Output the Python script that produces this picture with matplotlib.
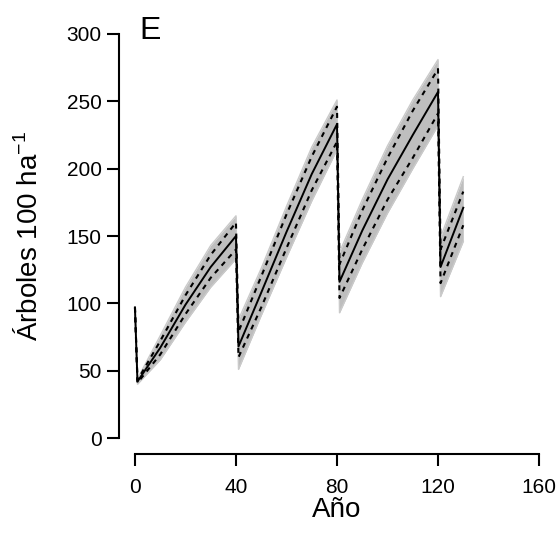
import matplotlib
matplotlib.use("Agg")
import matplotlib.pyplot as plt

plt.rcParams['font.family'] = ['Liberation Sans', 'DejaVu Sans']
plt.rcParams['mathtext.fontset'] = 'custom'
plt.rcParams['mathtext.rm'] = 'Liberation Sans'
plt.rcParams['mathtext.it'] = 'Liberation Sans:italic'

# valores (arboles por 100 ha)
years = [0, 1, 10, 20, 30, 40, 41, 50, 60, 70, 80, 81, 90, 100, 110, 120, 121, 130]
mean_line = [97, 42, 67, 99, 127, 150, 68, 108, 153, 196, 233, 116, 154, 192, 225, 257, 127, 171]
upper_q = [97, 43, 72, 106, 136, 160, 79, 120, 166, 209, 246, 129, 169, 208, 243, 274, 140, 183]
lower_q = [97, 41, 62, 92, 119, 140, 60, 97, 141, 184, 220, 104, 140, 177, 208, 241, 115, 158]
sim_max = [97, 44, 76, 112, 143, 165, 88, 126, 172, 216, 251, 138, 177, 217, 251, 281, 149, 194]
sim_min = [97, 40, 58, 86, 112, 133, 51, 91, 134, 176, 214, 93, 130, 167, 200, 232, 105, 146]

xticks = [0, 40, 80, 120, 160]
yticks = [0, 50, 100, 150, 200, 250, 300]

fig = plt.figure(figsize=(5.59, 5.35), dpi=100)
ax = fig.add_axes([0.2125, 0.151, 0.7807, 0.8157])

# simulaciones (banda gris)
ax.fill_between(years, sim_min, sim_max, color='#bebebe', lw=0)
ax.plot(years, sim_max, color='#cacaca', lw=1)
ax.plot(years, sim_min, color='#cacaca', lw=1)

ax.plot(years, upper_q, color='black', lw=1.5, dashes=(2.4, 2.4))
ax.plot(years, lower_q, color='black', lw=1.5, dashes=(2.4, 2.4))
ax.plot(years, mean_line, color='black', lw=1.4)

ax.set_xlim(-6.4, 166.4)
ax.set_ylim(-12, 312)
ax.set_xticks(xticks)
ax.set_yticks(yticks)
ax.set_xticklabels([str(t) for t in xticks])
ax.set_yticklabels([str(t) for t in yticks])

for s in ['top', 'right']:
    ax.spines[s].set_visible(False)
ax.spines['left'].set_bounds(0, 300)
ax.spines['bottom'].set_bounds(0, 160)
ax.spines['left'].set_linewidth(1.5)
ax.spines['bottom'].set_linewidth(1.5)
ax.tick_params(axis='both', direction='out', length=8.9, width=1.5, labelsize=15)
ax.tick_params(axis='x', pad=8.5)
ax.tick_params(axis='y', pad=3.4)

fig.text(337 / 559, (535 - 517) / 535, 'Año', ha='center', va='baseline', fontsize=20)
fig.text(37 / 559, (535 - 236) / 535, 'Árboles 100 ha$^{-1}$', rotation=90,
         rotation_mode='anchor', ha='center', va='baseline', fontsize=20)
fig.text(139.5 / 559, (535 - 39.3) / 535, 'E', ha='left', va='baseline', fontsize=23)

fig.savefig('out.png', dpi=100)
